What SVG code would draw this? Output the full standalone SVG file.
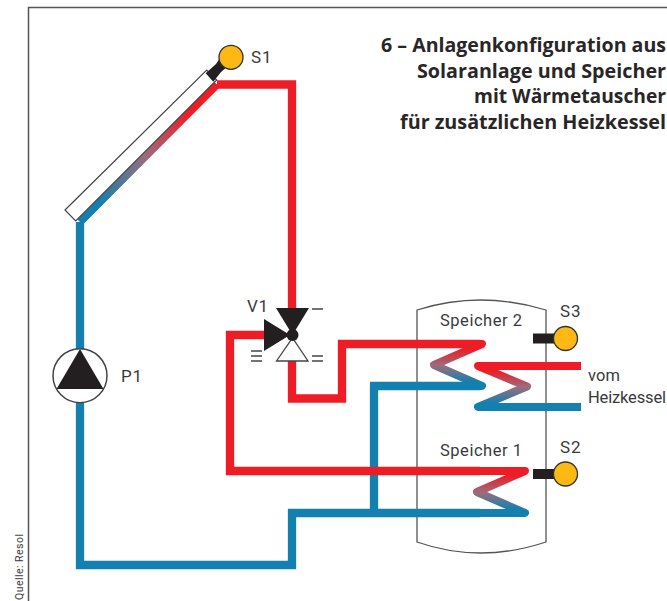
<svg xmlns="http://www.w3.org/2000/svg" width="667" height="601" viewBox="0 0 667 601">
<style>
text{font-family:Roboto,"Liberation Sans",sans-serif;fill:#3a3a3c}
.l{font-size:17px;letter-spacing:.8px}
.s{font-size:16.500px}
.t{font-family:"Open Sans",Roboto,sans-serif;font-size:19px;font-weight:700;fill:#2a2627}
.p{fill:none;stroke-width:8.300;stroke-linejoin:miter}
.r{stroke:#ee1c25}
.b{stroke:#1380b0}
.c{fill:none;stroke-width:8;stroke-linejoin:round}
.o{fill:none;stroke:#555;stroke-width:1.300}
.k{fill:#231f20}
.y{fill:#fdb913;stroke:#333;stroke-width:1.300}
.m{stroke:#444;stroke-width:1.300;fill:none}
</style>
<defs>
<linearGradient id="gd" gradientUnits="userSpaceOnUse" x1="190" y1="111" x2="100" y2="202"><stop offset="0" stop-color="#ee1c25"/><stop offset=".5" stop-color="#9c6c7c"/><stop offset="1" stop-color="#1380b0"/></linearGradient>
<linearGradient id="g1" gradientUnits="userSpaceOnUse" x1="0" y1="349" x2="0" y2="382"><stop offset="0" stop-color="#ee1c25"/><stop offset=".5" stop-color="#9c6c7c"/><stop offset="1" stop-color="#1380b0"/></linearGradient>
<linearGradient id="g2" gradientUnits="userSpaceOnUse" x1="0" y1="371" x2="0" y2="403"><stop offset="0" stop-color="#ee1c25"/><stop offset=".5" stop-color="#9c6c7c"/><stop offset="1" stop-color="#1380b0"/></linearGradient>
<linearGradient id="g3" gradientUnits="userSpaceOnUse" x1="0" y1="476" x2="0" y2="509"><stop offset="0" stop-color="#ee1c25"/><stop offset=".5" stop-color="#9c6c7c"/><stop offset="1" stop-color="#1380b0"/></linearGradient>
</defs>
<rect width="667" height="601" fill="#fff"/>
<path class="o" style="stroke-width:1.500" d="M28.500 601V7.500H667"/>
<text transform="translate(23 600) rotate(-90)" style="font-size:10.500px" textLength="66" lengthAdjust="spacing">Quelle: Resol</text>
<g id="title">
<text class="t" x="381" y="52" textLength="285" lengthAdjust="spacingAndGlyphs">6 – Anlagenkonfiguration aus</text>
<text class="t" x="417" y="78" textLength="249" lengthAdjust="spacingAndGlyphs">Solaranlage und Speicher</text>
<text class="t" x="474" y="103" textLength="192" lengthAdjust="spacingAndGlyphs">mit Wärmetauscher</text>
<text class="t" x="400" y="129" textLength="266" lengthAdjust="spacingAndGlyphs">für zusätzlichen Heizkessel</text>
</g>
<g id="tank">
<path class="o" d="M417 310Q480 290 546 310V542Q480 564 417 542Z"/>
<text class="s" x="440" y="326" textLength="82">Speicher 2</text>
<text class="s" x="440" y="456" textLength="82">Speicher 1</text>
</g>
<g id="connectors">
<path class="p b" d="M374 386V513"/>
<path class="p b" d="M80 222V565H292V513H480"/>
<path class="p b" d="M370 386H480"/>
<path class="p r" d="M217 84.500H292V320"/>
<path class="p r" d="M292 350V398.500H342V344H480"/>
<path class="p r" d="M270 335H230V471H480"/>
<path class="c" stroke="url(#gd)" d="M80 222L217 84.500"/>
<path class="c" stroke="url(#g1)" stroke-linecap="round" d="M470 344H482L434 365L482 386H470"/>
<path class="c" stroke="url(#g2)" d="M581 366H478L527 386.500L478 407H581"/>
<path class="c" stroke="url(#g3)" stroke-linecap="round" d="M470 471H525L477 492L525 513H470"/>
</g>
<g id="collector">
<path fill="#fff" stroke="#444" stroke-width="1.200" d="M65 210L206.700 70L216.700 80L75.700 221Z"/>
</g>
<g id="S1">
<path class="k" d="M205.700 73.300L213.300 81.700L221 72L228 66L220 58L216 64Z"/>
<circle class="y" cx="231" cy="57.300" r="12"/>
<text class="l" x="251" y="63">S1</text>
</g>
<g id="P1">
<circle cx="80" cy="375.700" r="27" fill="#fff" stroke="#444" stroke-width="1.500"/>
<path class="k" d="M80 349L103.500 389H56.500Z"/>
<text class="l" x="121" y="382">P1</text>
</g>
<g id="V1">
<path fill="#fff" stroke="#444" stroke-width="1.300" d="M276.500 361H308L292.500 338Z"/>
<path class="k" d="M276 308H309L292.500 335Z"/>
<path class="k" d="M264 319V351L290 335Z"/>
<circle class="k" cx="292.500" cy="335" r="6"/>
<path class="m" d="M312 309H323M312 356H323M312 361H323M251 351H262M251 356H262M251 361H262"/>
<text class="l" x="247" y="312">V1</text>
</g>
<g id="S3">
<rect class="k" x="533" y="333.500" width="24" height="10"/>
<circle class="y" cx="565.500" cy="338.500" r="12"/>
<text class="l" x="560" y="317">S3</text>
</g>
<g id="S2">
<rect class="k" x="533" y="469" width="24" height="10"/>
<circle class="y" cx="565.500" cy="474" r="12"/>
<text class="l" x="560" y="453">S2</text>
</g>
<g id="boiler">
<text class="s" x="588" y="381" textLength="32">vom</text>
<text class="s" x="588" y="403" textLength="78">Heizkessel</text>
</g>
</svg>
